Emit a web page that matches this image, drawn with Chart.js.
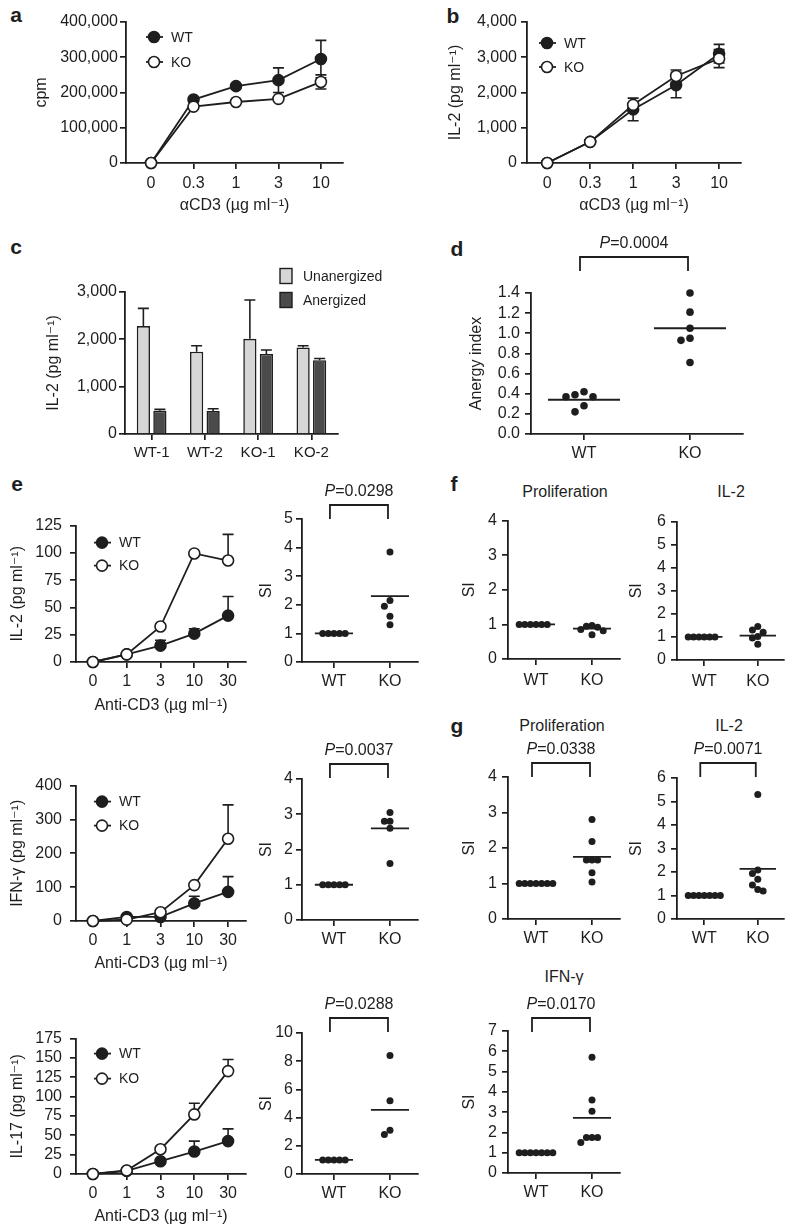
<!DOCTYPE html>
<html>
<head>
<meta charset="utf-8">
<title>Figure</title>
<script src="https://cdn.jsdelivr.net/npm/chart.js@4.4.1/dist/chart.umd.min.js"></script>
<style>
  html, body { margin: 0; padding: 0; background: #fff; }
  body { position: relative; width: 788px; height: 1226px; overflow: hidden;
         font-family: "Liberation Sans", Arial, "DejaVu Sans", sans-serif; color: #1e1e1e; }
  canvas { position: absolute; }
  .txt { position: absolute; transform: translate(-50%, -50%); white-space: nowrap; font-size: 16px; line-height: 1; }
  .tag { position: absolute; transform: translate(-50%, -50%); font-weight: bold; font-size: 21px; line-height: 1; }
</style>
</head>
<body>
<div class="tag" style="left:16px;top:14px">a</div>
<div class="tag" style="left:453px;top:15px">b</div>
<div class="tag" style="left:16px;top:246px">c</div>
<div class="tag" style="left:457px;top:248px">d</div>
<div class="tag" style="left:17px;top:483px">e</div>
<div class="tag" style="left:454px;top:483px">f</div>
<div class="tag" style="left:457px;top:725px">g</div>
<div class="txt" style="left:565px;top:492px">Proliferation</div>
<div class="txt" style="left:731px;top:492px">IL-2</div>
<div class="txt" style="left:562px;top:726px">Proliferation</div>
<div class="txt" style="left:729px;top:726px">IL-2</div>
<div class="txt" style="left:564px;top:977px">IFN-γ</div>
<script>
const INK = '#1e1e1e';
const FONT = '"Liberation Sans", Arial, "DejaVu Sans", sans-serif';
Chart.defaults.font.family = FONT;
Chart.defaults.color = INK;

// ---- a: proliferation (cpm) ----
const doseA = ['0', '0.3', '1', '3', '10'];
const cpmWT = [0, 180000, 218000, 235000, 295000];
const cpmWTerr = [0, 0, 0, 35000, 53000];
const cpmKO = [0, 160000, 173000, 182000, 230000];
const cpmKOerr = [0, 0, 0, 0, 20000];

// ---- b: IL-2 ----
const il2WT = [0, 600, 1520, 2210, 3100];
const il2WTerr = [0, 0, 320, 360, 265];
const il2KO = [0, 600, 1650, 2470, 2960];
const il2KOerr = [0, 0, 0, 170, 255];

// ---- c: anergy bars ----
const anergyGroups = ['WT-1', 'WT-2', 'KO-1', 'KO-2'];
const unanergized = [2280, 1740, 2010, 1830];
const unanergizedErr = [375, 125, 820, 35];
const anergized = [490, 485, 1690, 1560];
const anergizedErr = [30, 50, 85, 35];

// ---- d: anergy index ----
const anergyWT = [0.42, 0.37, 0.37, 0.39, 0.22, 0.28];
const anergyKO = [1.40, 1.21, 1.05, 0.95, 0.93, 0.71];
const anergyMean = [0.34, 1.05];

// ---- e: anti-CD3 dose response ----
const doseE = ['0', '1', '3', '10', '30'];
const eIl2WT = [0, 7, 15, 26, 42.5];
const eIl2WTerr = [0, 0, 5, 4.5, 17.5];
const eIl2KO = [0, 7, 32.5, 99.5, 93];
const eIl2KOerr = [0, 0, 0, 0, 24];
const eIfnWT = [0, 12, 12, 52, 86];
const eIfnWTerr = [0, 0, 0, 21, 45];
const eIfnKO = [0, 4, 26, 106, 243];
const eIfnKOerr = [0, 0, 0, 0, 100];
const eIl17WT = [0, 4, 16.5, 29, 42.5];
const eIl17WTerr = [0, 0, 0, 13.5, 15.8];
const eIl17KO = [0, 4.5, 32, 77, 133];
const eIl17KOerr = [0, 0, 0, 14.4, 15];

// ---- e/f/g: stimulation index ----
const genotypes = ['WT', 'KO'];
const eSiWT = [1, 1, 1, 1, 1];
const eSiIl2KO = [3.85, 2.15, 1.95, 1.6, 1.3];
const eSiIl2Mean = [1, 2.3];
const eSiIfnKO = [3.05, 2.8, 2.8, 2.6, 1.6];
const eSiIfnMean = [1, 2.6];
const eSiIl17KO = [8.4, 5.2, 3.1, 2.8];
const eSiIl17Mean = [1, 4.55];
const fSiWT = [1, 1, 1, 1, 1, 1];
const fProlifKO = [0.97, 0.95, 0.92, 0.85, 0.82, 0.7];
const fProlifMean = [1, 0.88];
const fIl2KO = [1.45, 1.3, 1.2, 1.02, 0.95, 0.68];
const fIl2Mean = [1, 1.06];
const gSiWT = [1, 1, 1, 1, 1, 1, 1];
const gProlifKO = [2.8, 2.18, 1.66, 1.66, 1.66, 1.3, 1.04];
const gProlifMean = [1, 1.75];
const gIl2KO = [5.3, 2.08, 1.94, 1.69, 1.45, 1.19, 1.26];
const gIl2Mean = [1, 2.13];
const gIfnKO = [5.7, 3.6, 3.05, 1.75, 1.75, 1.75, 1.5];
const gIfnMean = [1, 2.72];

// error bars drawn under the markers
Chart.register({
  id: 'errorBars',
  beforeDatasetsDraw(chart) {
    const ctx = chart.ctx;
    ctx.save();
    ctx.strokeStyle = INK;
    ctx.lineWidth = 1.6;
    chart.data.datasets.forEach((ds, i) => {
      if (!ds.errors) return;
      const meta = chart.getDatasetMeta(i);
      const ys = chart.scales[meta.yAxisID];
      meta.data.forEach((el, j) => {
        const e = ds.errors[j];
        if (!e) return;
        const raw = ds.data[j];
        const v = typeof raw === 'object' ? raw.y : raw;
        const top = ys.getPixelForValue(v + e);
        const bot = ys.getPixelForValue(ds.errBoth ? v - e : v);
        ctx.beginPath();
        ctx.moveTo(el.x, bot); ctx.lineTo(el.x, top);
        ctx.moveTo(el.x - 5.5, top); ctx.lineTo(el.x + 5.5, top);
        if (ds.errBoth) { ctx.moveTo(el.x - 5.5, bot); ctx.lineTo(el.x + 5.5, bot); }
        ctx.stroke();
      });
    });
    ctx.restore();
  }
});

function keyLegend(o) {
  return {
    id: 'keyLegend',
    afterDraw(chart) {
      const { ctx, chartArea } = chart;
      ctx.save();
      ctx.font = o.size + 'px ' + FONT;
      ctx.textBaseline = 'middle';
      ctx.strokeStyle = INK;
      chart.data.datasets.filter(ds => ds.label).forEach((ds, k) => {
        const cx = chartArea.left + o.x, cy = chartArea.top + o.y[k];
        if (o.box) {
          ctx.fillStyle = ds.backgroundColor;
          ctx.lineWidth = 1.4;
          ctx.fillRect(cx - 6, cy - 7.5, 12, 15);
          ctx.strokeRect(cx - 6, cy - 7.5, 12, 15);
        } else {
          ctx.lineWidth = ds.borderWidth;
          ctx.beginPath(); ctx.moveTo(cx - 8, cy); ctx.lineTo(cx + 9, cy); ctx.stroke();
          ctx.beginPath(); ctx.arc(cx, cy, ds.pointRadius, 0, Math.PI * 2);
          ctx.fillStyle = ds.pointBackgroundColor; ctx.fill();
          ctx.lineWidth = ds.pointBorderWidth; ctx.stroke();
        }
        ctx.fillStyle = INK;
        ctx.fillText(ds.label, cx + o.gap, cy + 1);
      });
      ctx.restore();
    }
  };
}

function pBracket(o) {
  return {
    id: 'pBracket',
    afterDraw(chart) {
      const { ctx, chartArea } = chart;
      const xs = chart.scales.x;
      const x0 = xs.getPixelForValue(0) - 4, x1 = xs.getPixelForValue(1) - 2;
      const yb = chartArea.top + o.bottom, yt = yb - 14;
      ctx.save();
      ctx.strokeStyle = INK; ctx.lineWidth = 1.8;
      ctx.beginPath();
      ctx.moveTo(x0, yb); ctx.lineTo(x0, yt); ctx.lineTo(x1, yt); ctx.lineTo(x1, yb);
      ctx.stroke();
      const fi = 'italic 16px ' + FONT, fr = '16px ' + FONT;
      const rest = '=' + o.text;
      ctx.font = fi; const wi = ctx.measureText('P').width;
      ctx.font = fr; const wr = ctx.measureText(rest).width;
      const sx = (x0 + x1) / 2 - (wi + wr) / 2, ty = yt - 13;
      ctx.fillStyle = INK; ctx.textBaseline = 'middle'; ctx.textAlign = 'left';
      ctx.font = fi; ctx.fillText('P', sx, ty);
      ctx.font = fr; ctx.fillText(rest, sx + wi, ty);
      ctx.restore();
    }
  };
}

function place(box) {
  const c = document.createElement('canvas');
  const w = box.R - box.L + box.yW + box.padR;
  const h = box.B - box.T + box.padT + box.xH;
  c.width = w; c.height = h;
  c.style.width = w + 'px'; c.style.height = h + 'px';
  c.style.left = (box.L - box.yW) + 'px';
  c.style.top = (box.T - box.padT) + 'px';
  document.body.appendChild(c);
  return c;
}

const gridOpts = { drawOnChartArea: false, drawTicks: true, tickLength: 6, color: INK, lineWidth: 1.7 };
const borderOpts = { display: true, color: INK, width: 1.8 };

function yAxis(box, o) {
  const n = Math.round(o.yMax / o.yStep);
  return {
    min: 0, max: o.yMax,
    afterBuildTicks: s => { s.ticks = Array.from({ length: n + 1 }, (_, i) => ({ value: +(i * o.yStep).toFixed(6) })); },
    afterFit: s => { s.width = box.yW; },
    ticks: { color: INK, font: { size: o.tickSize || 16 }, padding: o.yPad, autoSkip: false,
             callback: o.yFmt || (v => String(v)) },
    grid: gridOpts, border: borderOpts,
    title: { display: true, text: o.yTitle, color: INK, font: { size: 16 }, padding: 0 }
  };
}

function xLinear(box, o) {
  return {
    type: 'linear', min: o.xMin, max: o.xMax,
    afterBuildTicks: s => { s.ticks = o.xLabels.map((_, i) => ({ value: i })); },
    afterFit: s => { s.height = box.xH; },
    ticks: { color: INK, font: { size: 16 }, padding: o.xPad, autoSkip: false, maxRotation: 0,
             callback: v => o.xLabels[v] },
    grid: gridOpts, border: borderOpts,
    title: o.xTitle ? { display: true, text: o.xTitle, color: INK, font: { size: 16 }, padding: 0 } : { display: false }
  };
}

function baseOptions(box, o) {
  return {
    responsive: false, animation: false, events: [],
    layout: { padding: { top: box.padT, right: box.padR, left: 0, bottom: 0 } },
    plugins: { legend: { display: false }, tooltip: { enabled: false } },
    scales: { x: xLinear(box, o), y: yAxis(box, o) }
  };
}

function doseChart(box, o) {
  const pts = arr => arr.map((v, i) => ({ x: i, y: v }));
  const series = (label, data, err, fill, order) => ({
    label, data: pts(data), errors: err, errBoth: o.errBoth, order,
    showLine: true, tension: 0, clip: false,
    borderColor: INK, borderWidth: 1.8,
    pointRadius: 5.5, pointBorderWidth: 1.6, pointBorderColor: INK, pointBackgroundColor: fill
  });
  new Chart(place(box), {
    type: 'scatter',
    data: { datasets: [series('WT', o.wt, o.wtErr, INK, 1), series('KO', o.ko, o.koErr, '#fff', 0)] },
    options: baseOptions(box, o),
    plugins: [keyLegend({ x: o.legendX, y: o.legendY, size: 14, gap: 17 })]
  });
}

// simple beeswarm: column slot for each value so that dots do not pile up
function swarm(vals, pxPerY, minGap) {
  const order = vals.map((v, i) => i).sort((a, b) => vals[b] - vals[a]);
  const slots = new Array(vals.length);
  const placed = [];
  order.forEach(i => {
    const y = vals[i] * pxPerY;
    for (let k = 0; k < 40; k++) {
      const tries = k === 0 ? [0] : [-k, k];
      const free = tries.find(s => !placed.some(p => p.s === s && Math.abs(p.y - y) < minGap));
      if (free !== undefined) { slots[i] = free; placed.push({ s: free, y }); return; }
    }
  });
  return slots;
}

function siChart(box, o) {
  const r = o.dotR || 3.5;
  const pxPerY = (box.B - box.T) / o.yMax;
  const step = o.dotStep || 0.1;
  const dots = (vals, c) => swarm(vals, pxPerY, r * 2).map((s, i) => ({ x: c + s * step, y: vals[i] }));
  const meanLine = (m, c) => [{ x: c - 0.34, y: m }, { x: c + 0.34, y: m }];
  const dotSet = data => ({ data, pointRadius: r, pointBackgroundColor: INK, pointBorderWidth: 0, clip: false });
  const lineSet = data => ({ data, showLine: true, pointRadius: 0, borderColor: INK, borderWidth: 1.8, clip: false });
  const opts = Object.assign({ xLabels: genotypes, xMin: -0.5, xMax: 1.5, yPad: 5, xPad: 4, yTitle: 'SI' }, o);
  const plugins = o.p ? [pBracket({ text: o.p, bottom: o.pBottom || 0 })] : [];
  new Chart(place(box), {
    type: 'scatter',
    data: { datasets: [lineSet(meanLine(o.mean[0], 0)), lineSet(meanLine(o.mean[1], 1)),
                       dotSet(dots(o.wt, 0)), dotSet(dots(o.ko, 1))] },
    options: baseOptions(box, opts),
    plugins
  });
}

const thousands = v => v.toLocaleString('en-US');

// a
doseChart({ L: 126, T: 22, R: 343, B: 163, yW: 94, xH: 52, padT: 14, padR: 10 }, {
  wt: cpmWT, wtErr: cpmWTerr, ko: cpmKO, koErr: cpmKOerr, errBoth: true,
  xLabels: doseA, xMin: -0.59, xMax: 4.52, xPad: 5, xTitle: 'αCD3 (µg ml⁻¹)',
  yMax: 400000, yStep: 100000, yFmt: thousands, yPad: 2, yTitle: 'cpm',
  legendX: 28, legendY: [15, 40]
});

// b
doseChart({ L: 527, T: 22, R: 741, B: 163, yW: 81, xH: 52, padT: 14, padR: 10 }, {
  wt: il2WT, wtErr: il2WTerr, ko: il2KO, koErr: il2KOerr, errBoth: true,
  xLabels: doseA, xMin: -0.47, xMax: 4.51, xPad: 5, xTitle: 'αCD3 (µg ml⁻¹)',
  yMax: 4000, yStep: 1000, yFmt: thousands, yPad: 4, yTitle: 'IL-2 (pg ml⁻¹)',
  legendX: 20, legendY: [21, 45]
});

// c
(function () {
  const box = { L: 125, T: 292, R: 338, B: 434, yW: 81, xH: 31, padT: 30, padR: 50 };
  const bar = (label, data, err, color) => ({
    label, data, errors: err, backgroundColor: color, borderColor: INK, borderWidth: 1.6,
    barPercentage: 0.8, categoryPercentage: 0.62
  });
  new Chart(place(box), {
    type: 'bar',
    data: { labels: anergyGroups, datasets: [
      bar('Unanergized', unanergized, unanergizedErr, '#d6d6d6'),
      bar('Anergized', anergized, anergizedErr, '#4b4b4b')
    ] },
    options: {
      responsive: false, animation: false, events: [],
      layout: { padding: { top: box.padT, right: box.padR, left: 0, bottom: 0 } },
      plugins: { legend: { display: false }, tooltip: { enabled: false } },
      scales: {
        x: { type: 'category', offset: true,
             afterFit: s => { s.height = box.xH; },
             ticks: { color: INK, font: { size: 15 }, padding: 4, maxRotation: 0, autoSkip: false },
             grid: Object.assign({}, gridOpts, { offset: false }), border: borderOpts },
        y: yAxis(box, { yMax: 3000, yStep: 1000, yFmt: thousands, yPad: 2, yTitle: 'IL-2 (pg ml⁻¹)', tickSize: 16 })
      }
    },
    plugins: [keyLegend({ x: 161, y: [-16, 8], size: 14, gap: 17, box: true })]
  });
})();

// d
siChart({ L: 531, T: 293, R: 743, B: 434, yW: 64, xH: 30, padT: 60, padR: 10 }, {
  wt: anergyWT, ko: anergyKO, mean: anergyMean, dotR: 3.8, dotStep: 0.085,
  yMax: 1.4, yStep: 0.2, yFmt: v => v.toFixed(1), yTitle: 'Anergy index',
  p: '0.0004', pBottom: -22
});

// e, left column
doseChart({ L: 76, T: 520, R: 246, B: 662, yW: 68, xH: 53, padT: 12, padR: 8 }, {
  wt: eIl2WT, wtErr: eIl2WTerr, ko: eIl2KO, koErr: eIl2KOerr,
  xLabels: doseE, xMin: -0.5, xMax: 4.53, xPad: 4, xTitle: 'Anti-CD3 (µg ml⁻¹)',
  yMax: 125, yStep: 25, yPad: 8, yTitle: 'IL-2 (pg ml⁻¹)',
  legendX: 26, legendY: [17, 40]
});
doseChart({ L: 76, T: 780, R: 246, B: 921, yW: 68, xH: 52, padT: 12, padR: 8 }, {
  wt: eIfnWT, wtErr: eIfnWTerr, ko: eIfnKO, koErr: eIfnKOerr,
  xLabels: doseE, xMin: -0.5, xMax: 4.53, xPad: 4, xTitle: 'Anti-CD3 (µg ml⁻¹)',
  yMax: 400, yStep: 100, yPad: 8, yTitle: 'IFN-γ (pg ml⁻¹)',
  legendX: 26, legendY: [16, 40]
});
doseChart({ L: 76, T: 1033, R: 246, B: 1174, yW: 68, xH: 52, padT: 12, padR: 8 }, {
  wt: eIl17WT, wtErr: eIl17WTerr, ko: eIl17KO, koErr: eIl17KOerr,
  xLabels: doseE, xMin: -0.5, xMax: 4.53, xPad: 4, xTitle: 'Anti-CD3 (µg ml⁻¹)',
  yMax: 175, yStep: 25, yPad: 8, yTitle: 'IL-17 (pg ml⁻¹)',
  legendX: 26, legendY: [15, 40]
});

// e, right column
siChart({ L: 302, T: 519, R: 418, B: 662, yW: 45, xH: 30, padT: 36, padR: 6 }, {
  wt: eSiWT, ko: eSiIl2KO, mean: eSiIl2Mean, xMin: -0.57, xMax: 1.5, yPad: 3,
  yMax: 5, yStep: 1, p: '0.0298', pBottom: 0
});
siChart({ L: 302, T: 779, R: 418, B: 920, yW: 45, xH: 30, padT: 38, padR: 6 }, {
  wt: eSiWT, ko: eSiIfnKO, mean: eSiIfnMean, xMin: -0.57, xMax: 1.5, yPad: 3,
  yMax: 4, yStep: 1, p: '0.0037', pBottom: -1
});
siChart({ L: 302, T: 1033, R: 418, B: 1174, yW: 45, xH: 30, padT: 40, padR: 6 }, {
  wt: eSiWT, ko: eSiIl17KO, mean: eSiIl17Mean, xMin: -0.57, xMax: 1.5, yPad: 3,
  yMax: 10, yStep: 2, p: '0.0288', pBottom: -1
});

// f
siChart({ L: 508, T: 518, R: 620, B: 659, yW: 48, xH: 33, padT: 12, padR: 6 }, {
  wt: fSiWT, ko: fProlifKO, mean: fProlifMean, yMax: 4, yStep: 1, xPad: 6
});
siChart({ L: 677, T: 519, R: 787, B: 660, yW: 50, xH: 33, padT: 12, padR: 1 }, {
  wt: fSiWT, ko: fIl2KO, mean: fIl2Mean, xMin: -0.51, xMax: 1.49, yMax: 6, yStep: 1, xPad: 6
});

// g
siChart({ L: 508, T: 777, R: 620, B: 919, yW: 48, xH: 30, padT: 40, padR: 6 }, {
  wt: gSiWT, ko: gProlifKO, mean: gProlifMean, yMax: 4, yStep: 1, p: '0.0338', pBottom: 0
});
siChart({ L: 677, T: 778, R: 787, B: 919, yW: 50, xH: 30, padT: 40, padR: 1 }, {
  wt: gSiWT, ko: gIl2KO, mean: gIl2Mean, xMin: -0.51, xMax: 1.49, yMax: 6, yStep: 1, p: '0.0071', pBottom: -1
});
siChart({ L: 508, T: 1031, R: 620, B: 1173, yW: 48, xH: 30, padT: 40, padR: 6 }, {
  wt: gSiWT, ko: gIfnKO, mean: gIfnMean, yMax: 7, yStep: 1, p: '0.0170', pBottom: 1
});
</script>
</body>
</html>
